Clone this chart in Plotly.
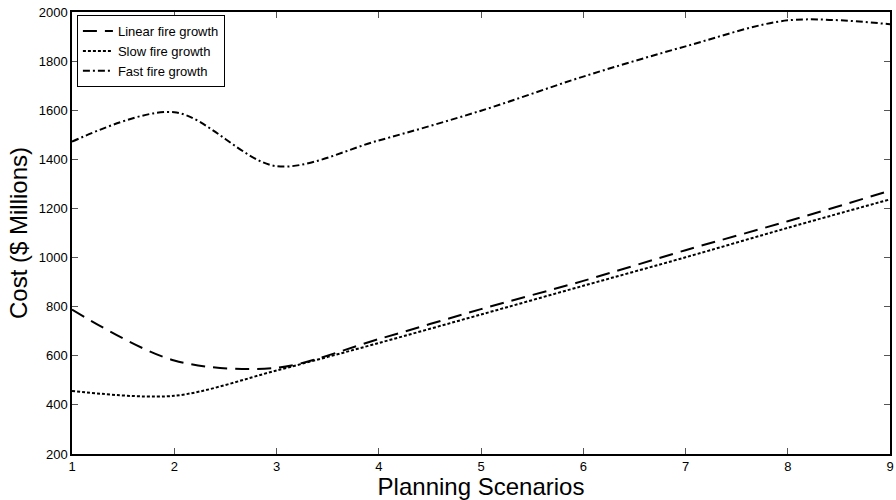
import plotly.graph_objects as go

# Planning scenarios on the x axis and cost (in $ millions) for each fire-growth model
scenarios = [1, 2, 3, 4, 5, 6, 7, 8, 9]
linear_growth = [788, 581, 551, 668, 790, 905, 1030, 1148, 1272]
slow_growth = [457, 437, 540, 652, 768, 885, 1001, 1121, 1237]
fast_growth = [1472, 1592, 1372, 1477, 1598, 1737, 1860, 1966, 1950]

series = [
    ("Linear fire growth", linear_growth, "14px,8px"),
    ("Slow fire growth", slow_growth, "3px,2px"),
    ("Fast fire growth", fast_growth, "7px,3px,2px,3px"),
]

fig = go.Figure()
for name, values, dash in series:
    fig.add_trace(go.Scatter(
        x=scenarios, y=values, name=name, mode="lines",
        line=dict(color="black", width=2, dash=dash, shape="spline", smoothing=0.9),
    ))

axis_common = dict(
    showline=True, linecolor="black", linewidth=1.5, mirror="allticks",
    ticks="inside", ticklen=6, tickcolor="#555", tickwidth=1,
    showgrid=False, zeroline=False,
    tickfont=dict(family="Liberation Sans, Arial", size=13, color="black"),
)

fig.update_layout(
    width=896, height=500,
    margin=dict(l=72, r=2, t=12, b=46),
    plot_bgcolor="white", paper_bgcolor="white",
    font=dict(family="Liberation Sans, Arial", color="black"),
    xaxis=dict(range=[1, 9], dtick=1,
               title=dict(text="Planning Scenarios", font=dict(size=24), standoff=2),
               **axis_common),
    yaxis=dict(range=[200, 2000], dtick=200,
               title=dict(text="Cost ($ Millions)", font=dict(size=24), standoff=4),
               **axis_common),
    legend=dict(x=0.006, y=0.993, xanchor="left", yanchor="top",
                bgcolor="white", bordercolor="black", borderwidth=1,
                font=dict(size=13), tracegroupgap=0, itemwidth=30),
    showlegend=True,
)

fig.write_html("out.html")
